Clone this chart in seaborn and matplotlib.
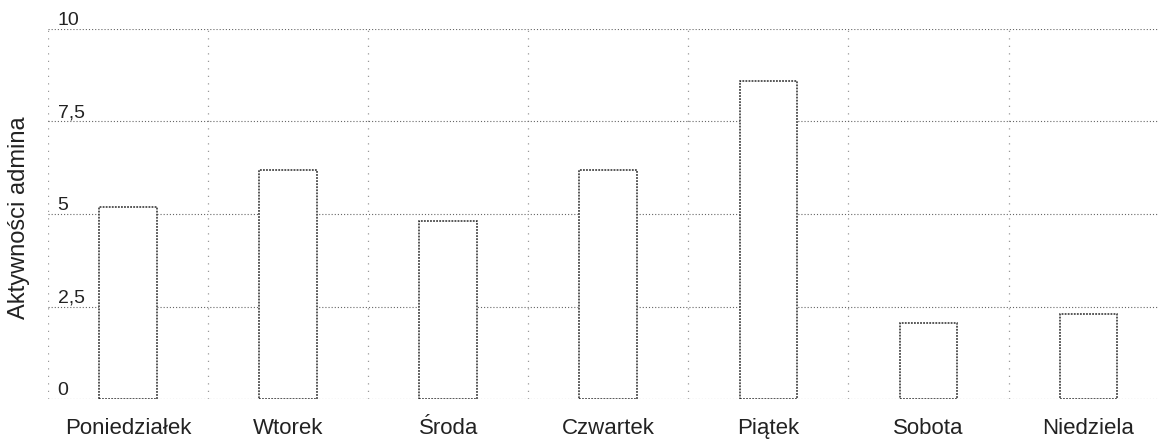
import numpy as np
import matplotlib
matplotlib.use('Agg')
import matplotlib.pyplot as plt
import seaborn as sns
from matplotlib.ticker import FixedLocator

# dane - aktywnosci admina w dniach tygodnia
dni = ['Poniedziałek', 'Wtorek', 'Środa', 'Czwartek', 'Piątek', 'Sobota', 'Niedziela']
aktywnosci = [5.2, 6.2, 4.8, 6.2, 8.6, 2.05, 2.3]
y_ticks = [0, 2.5, 5, 7.5, 10]
y_labels = ['0', '2,5', '5', '7,5', '10']

sns.set_style('white')
plt.rcParams['font.family'] = ['Liberation Sans', 'DejaVu Sans']

fig = plt.figure(figsize=(11.59, 4.44), dpi=100)
ax = fig.add_axes([48 / 1159, 45 / 444, 1 - 48 / 1159, 370 / 444])

sns.barplot(x=dni, y=aktywnosci, color='white', saturation=1, width=0.36,
            edgecolor='#2a2a2a', linewidth=1.1, ax=ax, zorder=3)
for p in ax.patches:
    p.set_linestyle((0, (1.2, 0.8)))

ax.set_xlim(-0.5, 6.44)
ax.set_ylim(0, 10)

# siatka pozioma
ax.set_yticks(y_ticks)
ax.set_yticklabels(y_labels)
ax.yaxis.grid(True, color='#666666', linestyle=(0, (1, 1.8)), linewidth=0.8)
# siatka pionowa miedzy kategoriami
ax.xaxis.set_minor_locator(FixedLocator(np.arange(-0.5, 7, 1.0)))
ax.xaxis.grid(True, which='minor', color='#999999', linestyle=(0, (1, 5)), linewidth=0.9)
ax.xaxis.grid(False, which='major')

ax.tick_params(axis='y', length=0, pad=-7, labelsize=14, labelcolor='#222222')
for lbl in ax.get_yticklabels():
    lbl.set_horizontalalignment('left')
    lbl.set_verticalalignment('bottom')
ax.tick_params(axis='x', which='both', length=0, pad=14, labelsize=16, labelcolor='#222222')

ax.set_ylabel('Aktywności admina', fontsize=17, color='#222222')
ax.yaxis.set_label_coords(-0.016, 0.49)
sns.despine(ax=ax, left=True, bottom=True)

fig.savefig('out.png', dpi=100, facecolor='white')
